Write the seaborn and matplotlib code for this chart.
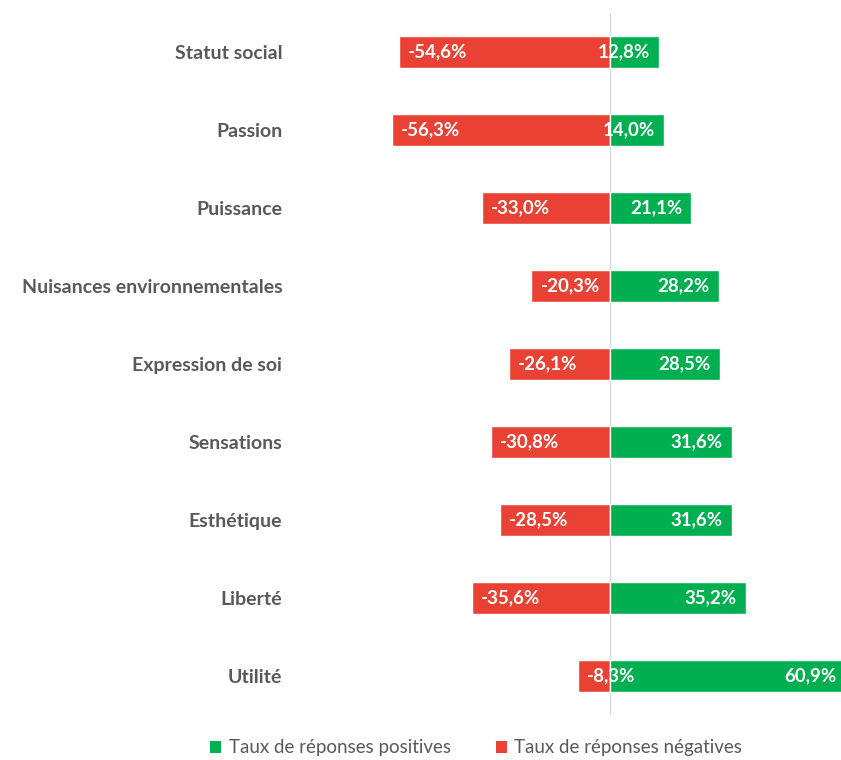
import matplotlib
matplotlib.use("Agg")
import matplotlib.pyplot as plt
from matplotlib.patches import Patch
import seaborn as sns
import pandas as pd

categories = ["Statut social", "Passion", "Puissance", "Nuisances environnementales",
              "Expression de soi", "Sensations", "Esthétique", "Liberté", "Utilité"]
positives = [12.8, 14.0, 21.1, 28.2, 28.5, 31.6, 31.6, 35.2, 60.9]
negatives = [-54.6, -56.3, -33.0, -20.3, -26.1, -30.8, -28.5, -35.6, -8.3]
legend_labels = ["Taux de réponses positives", "Taux de réponses négatives"]

GREEN = "#00B050"
RED = "#E94235"
GREY = "#595959"

sns.set_theme(style="white")
plt.rcParams["font.family"] = ["Lato", "DejaVu Sans"]

df = pd.DataFrame({"cat": categories, "pos": positives, "neg": negatives})

fig = plt.figure(figsize=(8.41, 7.6), dpi=100)
ax = fig.add_axes([0.4495, 0.0592, 0.5505, 0.9237])

sns.barplot(data=df, y="cat", x="neg", color=RED, width=0.41, ax=ax,
            saturation=1, orient="h")
sns.barplot(data=df, y="cat", x="pos", color=GREEN, width=0.41, ax=ax,
            saturation=1, orient="h")

ax.set_xlim(-60.0, 59.85)
ax.set_ylim(8.5, -0.5)
ax.axvline(0, color="#D9D9D9", lw=1, zorder=0)

def fmt(v):
    return f"{v:.1f}%".replace(".", ",")

for i, (p, n) in enumerate(zip(positives, negatives)):
    ax.annotate(fmt(n), xy=(n, i), xytext=(6.5, 0), textcoords="offset points",
                ha="left", va="center", color="white", fontsize=13.5,
                fontweight="bold", annotation_clip=False, zorder=5)
    ax.annotate(fmt(p), xy=(p, i), xytext=(-6.5, 0), textcoords="offset points",
                ha="right", va="center", color="white", fontsize=13.5,
                fontweight="bold", annotation_clip=False, zorder=5)

ax.set_xlabel("")
ax.set_ylabel("")
ax.set_xticks([])
ax.tick_params(axis="y", length=0, pad=69)
for lbl in ax.get_yticklabels():
    lbl.set_fontweight("bold")
    lbl.set_fontsize(14)
    lbl.set_color(GREY)
    lbl.set_ha("right")
for s in ax.spines.values():
    s.set_visible(False)

handles = [Patch(facecolor=GREEN, edgecolor="none"), Patch(facecolor=RED, edgecolor="none")]
fig.legend(handles, legend_labels, loc="center", bbox_to_anchor=(0.566, 0.016),
           ncol=2, frameon=False, fontsize=13.5, labelcolor=GREY,
           handlelength=0.6, handleheight=0.6, handletextpad=0.4, columnspacing=2.4)

fig.savefig("out.png", dpi=100)
